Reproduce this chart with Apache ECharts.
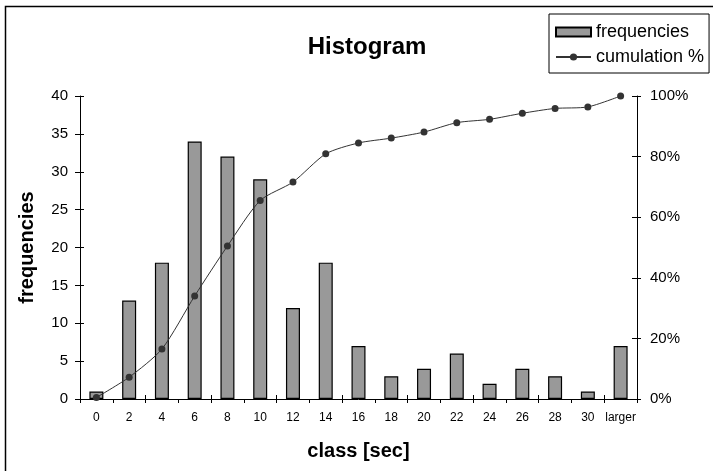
<!DOCTYPE html>
<html><head><meta charset="utf-8">
<script src="https://cdn.jsdelivr.net/npm/echarts@6/dist/echarts.min.js"></script>
<style>html,body{margin:0;padding:0;background:#fff}#c{width:713px;height:471px}</style>
</head><body><div id="c"></div>
<script>
const categories = ['0','2','4','6','8','10','12','14','16','18','20','22','24','26','28','30','larger'];
const frequencies = [1,13,18,34,32,29,12,18,7,3,4,6,2,4,3,1,7];
const cumulation = [0.005,0.072,0.165,0.340,0.505,0.655,0.716,0.809,0.845,0.861,0.881,0.912,0.923,0.943,0.959,0.964,1.0];
const leftTicks = [0,5,10,15,20,25,30,35,40];
const rightTicks = [0,0.2,0.4,0.6,0.8,1.0];

const font = 'Liberation Sans, Arial, sans-serif';
const chart = echarts.init(document.getElementById('c'));
const axisLine = {show:true, lineStyle:{color:'#000', width:1}};
chart.setOption({
  animation:false,
  textStyle:{fontFamily:font},
  title:{text:'Histogram', left:362, textAlign:'center', top:30,
    textStyle:{fontFamily:font, fontSize:24, fontWeight:'bold', color:'#000'}},
  legend:{orient:'vertical', left:549, top:14,
    padding:[9,5,7,6], itemGap:7, itemWidth:35, itemHeight:9,
    borderColor:'#000', borderWidth:1, backgroundColor:'#fff',
    textStyle:{fontFamily:font, fontSize:18, color:'#000'},
    data:[{name:'frequencies', icon:'rect'},{name:'cumulation %'}]},
  graphic:[{type:'rect', shape:{x:5.5, y:6.5, width:800, height:600},
    style:{fill:'none', stroke:'#000', lineWidth:1.5}, z:-1}],
  grid:{left:80, right:76, top:96, bottom:72},
  xAxis:[{type:'category', data:categories, boundaryGap:true,
    name:'class [sec]', nameLocation:'middle', nameGap:42,
    nameTextStyle:{fontFamily:font, fontSize:20, fontWeight:'bold', color:'#000'},
    axisLine:axisLine, axisTick:{show:true, length:4, alignWithLabel:false, lineStyle:{color:'#000'}},
    axisLabel:{color:'#000', fontSize:12, margin:13, interval:0, fontFamily:font}},
   {type:'category', data:categories, position:'bottom', boundaryGap:true,
    axisLine:{show:false}, axisTick:{show:true, inside:true, length:4, lineStyle:{color:'#000'}},
    axisLabel:{show:false}}],
  yAxis:[{type:'value', min:0, max:40, interval:5, position:'left',
    name:'frequencies', nameLocation:'middle', nameGap:43, nameRotate:90,
    nameTextStyle:{fontFamily:font, fontSize:20, fontWeight:'bold', color:'#000'},
    axisLine:axisLine, axisTick:{show:true, length:5, lineStyle:{color:'#000'}},
    axisLabel:{color:'#000', fontSize:15, margin:12, fontFamily:font}, splitLine:{show:false}},
   {type:'value', min:0, max:1, interval:0.2, position:'right',
    axisLine:axisLine, axisTick:{show:true, length:4, lineStyle:{color:'#000'}},
    axisLabel:{color:'#000', fontSize:15, margin:13, fontFamily:font,
      formatter:v=>Math.round(v*100)+'%'}, splitLine:{show:false}},
   {type:'value', min:0, max:40, interval:5, position:'left',
    axisLine:{show:false}, axisTick:{show:true, inside:true, length:4, lineStyle:{color:'#000'}},
    axisLabel:{show:false}, splitLine:{show:false}},
   {type:'value', min:0, max:1, interval:0.2, position:'right',
    axisLine:{show:false}, axisTick:{show:true, inside:true, length:5, lineStyle:{color:'#000'}},
    axisLabel:{show:false}, splitLine:{show:false}}],
  series:[
    {name:'frequencies', type:'bar', data:frequencies, yAxisIndex:0, xAxisIndex:0, barWidth:14,
      itemStyle:{color:'#999999', borderColor:'#000', borderWidth:1.2}},
    {name:'cumulation %', type:'line', data:cumulation, yAxisIndex:1, xAxisIndex:0, smooth:0.25,
      symbol:'circle', symbolSize:7, lineStyle:{color:'#333', width:1},
      itemStyle:{color:'#333'}, z:5}
  ]
});
</script></body></html>
